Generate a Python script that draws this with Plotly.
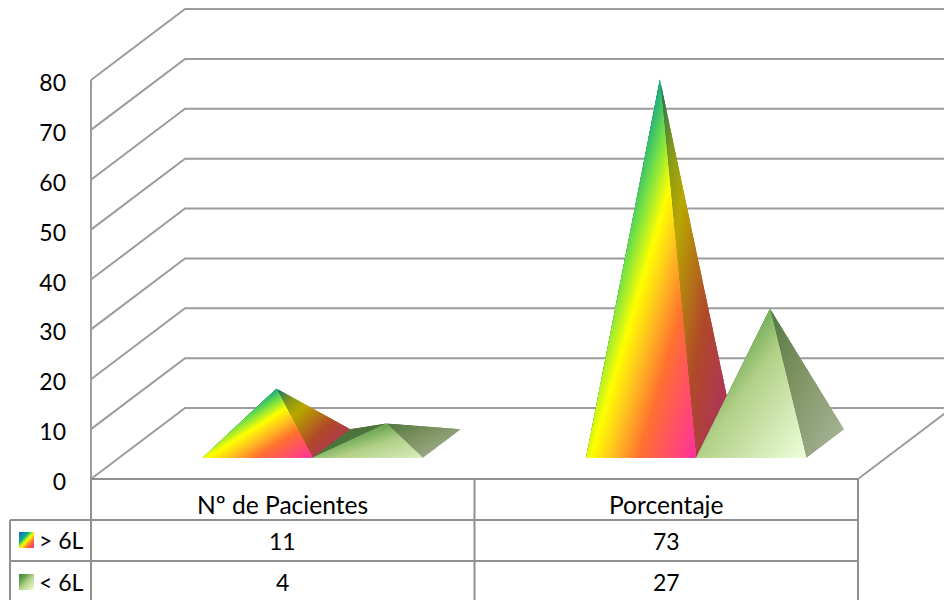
import plotly.graph_objects as go

# ---------- data ----------
categories = ["Nº de Pacientes", "Porcentaje"]
series_names = ["> 6L", "< 6L"]
over_6l = [11, 73]
under_6l = [4, 27]
value_ticks = [0, 10, 20, 30, 40, 50, 60, 70, 80]

# ---------- canvas / scale ----------
W, H = 944, 600
PX_CAT = 383.5          # pixels per category
PX_VAL = 4.9875         # pixels per value unit
X0_PX, Y0_PX = 91, 479  # plot origin on the canvas
XR = [-X0_PX / PX_CAT, (W - X0_PX) / PX_CAT]
YR = [-(H - Y0_PX) / PX_VAL, Y0_PX / PX_VAL]
DX = 94 / PX_CAT        # oblique shift for full depth
DY = 71 / PX_VAL
GRID = "#9c9c9c"
TXT = "#000000"
FONT = "Lato"
FS_NUM = 23
FS_TXT = 24.6


def proj(x, depth, v):
    return (x + depth * DX, v + depth * DY)


def px_x(px):
    return (px - X0_PX) / PX_CAT


def px_y(py):
    return (Y0_PX - py) / PX_VAL


def hex2rgb(h):
    return tuple(int(h[i:i + 2], 16) for i in (1, 3, 5))


def ramp(stops, t):
    t = max(0, min(1, t))
    for (a, ca), (b, cb) in zip(stops, stops[1:]):
        if t <= b:
            f = (t - a) / (b - a)
            ra, rb = hex2rgb(ca), hex2rgb(cb)
            return "rgb(%d,%d,%d)" % tuple(round(p + (q - p) * f) for p, q in zip(ra, rb))
    return stops[-1][1]


def clip(poly, fn):
    """Clip a polygon to fn(p) >= 0."""
    out = []
    for i, p in enumerate(poly):
        q = poly[(i + 1) % len(poly)]
        fp, fq = fn(p), fn(q)
        if fp >= 0:
            out.append(p)
        if fp * fq < 0:
            f = fp / (fp - fq)
            out.append((p[0] + (q[0] - p[0]) * f, p[1] + (q[1] - p[1]) * f))
    return out


def gradient_poly(fig, poly, stops, t0=0.0, t1=1.0, n=90):
    """Fill polygon with a corner-to-corner gradient, scaled to its box.
    Each band overlaps a little under the next to hide seams."""
    xs, ys = [p[0] for p in poly], [p[1] for p in poly]
    x0, x1, y0, y1 = min(xs), max(xs), min(ys), max(ys)

    def tval(p):
        return 0.5 * (p[0] - x0) / (x1 - x0) + 0.5 * (y1 - p[1]) / (y1 - y0)

    for i in range(n):
        a, b = i / n, (i + 1) / n
        part = clip(poly, lambda p: tval(p) - a)
        if len(part) >= 3:
            part = clip(part, lambda p: (b + 1.5 / n) - tval(p))
        if len(part) < 3:
            continue
        col = ramp(stops, t0 + (t1 - t0) * (a + b) / 2)
        fig.add_trace(go.Scatter(
            x=[p[0] for p in part] + [part[0][0]],
            y=[p[1] for p in part] + [part[0][1]],
            mode="lines", fill="toself", fillcolor=col,
            line=dict(color=col, width=0),
            hoverinfo="skip", showlegend=False))


RAINBOW = [(0, "#1a5fd0"), (.2, "#0f90b0"), (.33, "#12a886"), (.42, "#70e048"),
           (.52, "#ffff00"), (.62, "#ffc020"), (.74, "#ff7030"), (1, "#ff2fa0")]
RAINBOW_DK = [(0, "#206050"), (.36, "#2f7a50"), (.45, "#8a9a18"), (.54, "#b8a800"),
              (.74, "#b04a28"), (1, "#ad2a70")]
GREEN = [(0, "#3f7f35"), (.33, "#78ae5c"), (.5, "#b2d088"), (1, "#eeffdc")]
GREEN_DK = [(0, "#3f6a30"), (.36, "#567a44"), (.6, "#7f9262"), (1, "#abb89e")]

fig = go.Figure()


def line(xs, ys, color=GRID, width=2):
    fig.add_trace(go.Scatter(x=xs, y=ys, mode="lines",
                             line=dict(color=color, width=width),
                             hoverinfo="skip", showlegend=False))


# walls and floor
for v in value_ticks:
    a, b, c = proj(0, 0, v), proj(0, 1, v), proj(len(categories), 1, v)
    line([a[0], b[0], c[0]], [a[1], b[1], c[1]])
fl = proj(len(categories), 0, 0)
fr = proj(len(categories), 1, 0)
line([fl[0], fr[0]], [fl[1], fr[1]])
line([0, 0], [value_ticks[0], value_ticks[-1]])

# pyramids
BAR_START = 0.2175
BAR_W = 0.287
D_FRONT, D_BACK = 0.3, 0.7


def pyramid(cat, ser, val, front, side):
    x0 = cat + BAR_START + ser * BAR_W
    x1 = x0 + BAR_W
    FL, FR = proj(x0, D_FRONT, 0), proj(x1, D_FRONT, 0)
    BL, BR = proj(x0, D_BACK, 0), proj(x1, D_BACK, 0)
    AP = proj((x0 + x1) / 2, (D_FRONT + D_BACK) / 2, val)
    # squat faces reach less far along the light/dark ramp
    reach = 0.82 if (ser and val < 10) else 1.0
    gradient_poly(fig, [FL, BL, AP], GREEN_DK if ser else RAINBOW_DK, 0.1, 0.4)
    gradient_poly(fig, [FR, BR, AP], side, 0.33, 1.0)
    gradient_poly(fig, [FL, FR, AP], front, 0.0, reach)


for c in range(len(categories)):
    pyramid(c, 0, over_6l[c], RAINBOW, RAINBOW_DK)
    pyramid(c, 1, under_6l[c], GREEN, GREEN_DK)

# data table lines
ROW_PX = [479, 520, 561]
LEFT_PX = 10
for i, py in enumerate(ROW_PX):
    start = 0 if i == 0 else px_x(LEFT_PX)
    line([start, len(categories)], [px_y(py), px_y(py)], "#8f8f8f", 2)
bottom = px_y(H + 2)
line([px_x(LEFT_PX), px_x(LEFT_PX)], [px_y(ROW_PX[1]), bottom], "#8f8f8f", 2)
for c in range(len(categories) + 1):
    line([c, c], [px_y(ROW_PX[0]), bottom], "#8f8f8f", 2)

# legend keys
for i, stops in enumerate([RAINBOW, GREEN]):
    ky = [532, 574][i]
    square = [(px_x(19), px_y(ky + 16)), (px_x(34), px_y(ky + 16)),
              (px_x(34), px_y(ky)), (px_x(19), px_y(ky))]
    gradient_poly(fig, square, stops, n=20)

# table text
annotations = []


def label(x, py, text, size, anchor="center"):
    annotations.append(dict(x=x, y=px_y(py), xref="x", yref="y", text=text,
                            showarrow=False, xanchor=anchor, yanchor="middle",
                            font=dict(family=FONT, size=size, color=TXT)))


for c, name in enumerate(categories):
    label(c + 0.5, 504.5, name, FS_TXT)
    label(c + 0.5, 541, str(over_6l[c]), FS_NUM)
    label(c + 0.5, 582, str(under_6l[c]), FS_NUM)
label(px_x(37), 540, series_names[0], FS_NUM, "left")
label(px_x(37), 582, series_names[1], FS_NUM, "left")

fig.update_layout(
    width=W, height=H,
    margin=dict(l=0, r=0, t=0, b=0),
    paper_bgcolor="white", plot_bgcolor="white",
    showlegend=False,
    annotations=annotations,
    xaxis=dict(range=XR, domain=[0, 1], visible=False, fixedrange=True),
    yaxis=dict(range=YR, domain=[0, 1], anchor="free", position=X0_PX / W,
               tickmode="array", tickvals=value_ticks,
               ticktext=[str(v) for v in value_ticks],
               showgrid=False, zeroline=False, showline=False, ticks="",
               ticklabelstandoff=25, ticklabelshift=3, fixedrange=True,
               tickfont=dict(family=FONT, size=FS_NUM, color=TXT)),
)
fig.write_html("out.html", config=dict(displayModeBar=False),
               post_script="document.body.style.margin='0';document.body.style.overflow='hidden';")
